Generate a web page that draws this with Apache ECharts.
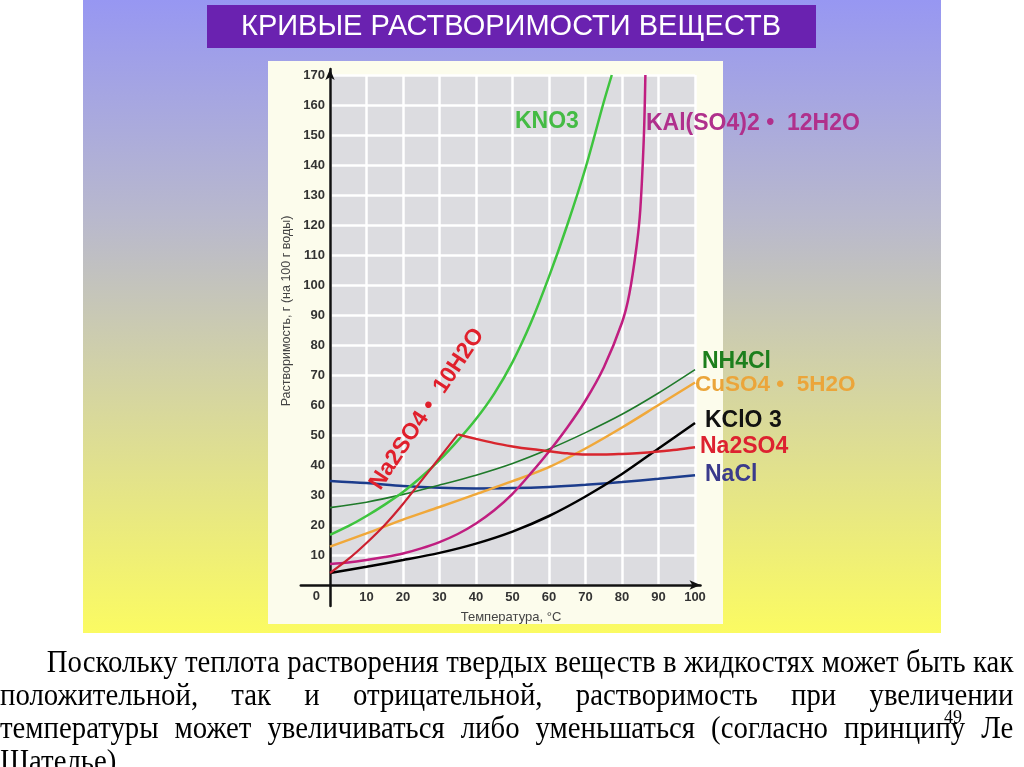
<!DOCTYPE html>
<html><head><meta charset="utf-8">
<script src="https://cdn.jsdelivr.net/npm/echarts@6/dist/echarts.min.js"></script>
<style>
html,body{margin:0;padding:0;background:#fff;width:1024px;height:767px;overflow:hidden;}
#c{position:absolute;left:0;top:0;width:1024px;height:767px;}
.ln{position:absolute;left:0;width:1126px;transform:scaleX(0.9);transform-origin:0 0;
  font-family:"Liberation Serif","Times New Roman",serif;font-size:32px;line-height:33px;color:#000;
  text-align:justify;text-align-last:justify;}
#pg{position:absolute;left:944px;top:707px;font-family:"Liberation Serif",serif;font-size:18px;color:#000;}
</style></head><body>
<div id="c"></div>
<div class="ln" style="top:645px;padding-left:52px;width:1074px">Поскольку теплота растворения твердых веществ в жидкостях может быть как</div>
<div class="ln" style="top:678px">положительной, так и отрицательной, растворимость при увеличении</div>
<div class="ln" style="top:711px">температуры может увеличиваться либо уменьшаться (согласно принципу Ле</div>
<div class="ln" style="top:744px;text-align:left;text-align-last:left">Шателье)</div>
<div id="pg">49</div>
<script>
// ---- data (temperature °C, solubility g/100 g water) ----
const xTicks = [0,10,20,30,40,50,60,70,80,90,100];
const yTicks = [0,10,20,30,40,50,60,70,80,90,100,110,120,130,140,150,160,170];
const KNO3 = [[0,16.7],[5,19.6],[10,23],[15,26.8],[20,31],[25,36],[30,41.6],[35,48.1],[40,55.3],[45,63.8],[50,74.3],[55,87.3],[60,102.8],[65,120],[70,139],[75,161],[77.2,170]];
const KAL = [[0,7],[5,7.5],[10,8.3],[15,9.3],[20,10.5],[25,12.2],[30,14.3],[35,17],[40,20.5],[45,24.9],[50,30.4],[55,37.2],[60,44.5],[65,52.5],[70,61.5],[75,72.5],[80,87.5],[82,97],[84,113],[85,125],[86,150],[86.4,170]];
const NH4CL = [[0,25.8],[10,27.6],[20,30.2],[30,33.3],[40,36.6],[50,40.5],[60,45.3],[70,50.8],[80,56.9],[90,64],[100,71.8]];
const CUSO4 = [[0,12.8],[10,17.2],[20,21.8],[30,26],[40,30.3],[50,34.6],[60,39.3],[70,45.5],[80,52.5],[90,60],[100,67.5]];
const KCLO3 = [[0,4],[10,6.1],[20,8.3],[30,10.7],[40,13.8],[50,17.8],[60,23],[70,29.5],[80,37],[90,45.5],[100,54]];
const NA2SO4_10H2O = [[0,4],[5,8.6],[10,14],[15,20],[20,27],[25,34.7],[30,42.4],[35,50.2]];
const NA2SO4 = [[35,50.2],[40,48.7],[45,47.3],[50,46.2],[55,45.3],[60,44.6],[65,43.9],[70,43.5],[75,43.5],[80,43.7],[85,44],[90,44.5],[95,45.1],[100,45.9]];
const NACL = [[0,34.7],[10,34],[20,33],[30,32.4],[40,32.2],[50,32.3],[60,32.7],[70,33.4],[80,34.3],[90,35.4],[100,36.6]];

const chart = echarts.init(document.getElementById('c'), null, {renderer:'canvas'});
const FS = 'Liberation Sans, Arial, sans-serif';
function line(name, data, color, width){
  return {type:'line', name, data, xAxisIndex:1, yAxisIndex:1, showSymbol:false, symbol:'none',
    smooth:0.3, lineStyle:{color, width}, z:3, silent:true};
}
function lbl(text, x, y, color, size){
  return {type:'text', z:50, style:{text, x, y, fill:color, font:'bold '+size+'px '+FS, textAlign:'left', textVerticalAlign:'middle'}};
}
chart.setOption({
  animation:false,
  grid:[
    {left:330, top:75, width:365, height:510, show:true, backgroundColor:'#dcdce0', borderWidth:0},
    {left:300.8, top:69, width:399.7, height:537, show:false}
  ],
  xAxis:[
    {gridIndex:0, type:'value', min:0, max:100, interval:10, axisLine:{show:false}, axisTick:{show:false},
      axisLabel:{show:true, fontWeight:'bold', fontSize:13, color:'#333', margin:6, fontFamily:FS,
        formatter:v => (v === 0 ? '' : String(v))},
      splitLine:{show:true, lineStyle:{color:'#ffffff', width:2.5}}},
    {gridIndex:1, type:'value', min:-8, max:101.5,
      axisLine:{show:true, onZero:true, lineStyle:{color:'#111', width:2.5}, symbol:['none','arrow'], symbolSize:[7,11]},
      axisTick:{show:false}, splitLine:{show:false}, axisLabel:{show:false}}
  ],
  yAxis:[
    {gridIndex:0, type:'value', min:0, max:170, interval:10, axisLine:{show:false}, axisTick:{show:false},
      axisLabel:{show:true, fontWeight:'bold', fontSize:13, color:'#333', margin:5, fontFamily:FS,
        formatter:v => v === 0 ? '{z|0}' : String(v),
        rich:{z:{fontWeight:'bold', fontSize:13, color:'#333', fontFamily:FS, padding:[22,5,0,0]}}},
      splitLine:{show:true, lineStyle:{color:'#ffffff', width:2.5}}},
    {gridIndex:1, type:'value', min:-7, max:172,
      axisLine:{show:true, onZero:true, lineStyle:{color:'#111', width:2.5}, symbol:['none','arrow'], symbolSize:[7,11]},
      axisTick:{show:false}, splitLine:{show:false}, axisLabel:{show:false}}
  ],
  series:[
    line('NaCl', NACL, '#1c3c8c', 2.5),
    line('NH4Cl', NH4CL, '#1f7a2a', 1.6),
    line('CuSO4 • 5H2O', CUSO4, '#f0a83a', 2.5),
    line('KClO3', KCLO3, '#000000', 2.5),
    line('KAl(SO4)2 • 12H2O', KAL, '#c01e80', 2.5),
    line('KNO3', KNO3, '#3ec43e', 2.5),
    line('Na2SO4 • 10H2O', NA2SO4_10H2O, '#cc2030', 2.2),
    line('Na2SO4', NA2SO4, '#d8262e', 2.5)
  ],
  graphic:[
    {type:'rect', z:-10, shape:{x:83, y:0, width:858, height:633},
      style:{fill:new echarts.graphic.LinearGradient(0,0,0,1,[
        {offset:0, color:'#9797f2'},{offset:0.35, color:'#b9b9cc'},{offset:0.6, color:'#d3d3a4'},{offset:1, color:'#fbfb62'}])}},
    {type:'rect', z:-9, shape:{x:268, y:61, width:455, height:563}, style:{fill:'#fcfcec'}},
    {type:'rect', z:-9, shape:{x:207, y:5, width:609, height:43}, style:{fill:'#6a22b0'}},
    {type:'text', z:50, style:{text:'КРИВЫЕ РАСТВОРИМОСТИ ВЕЩЕСТВ', x:511, y:27, fill:'#ffffff', font:'29px '+FS, textAlign:'center', textVerticalAlign:'middle'}},
    {type:'text', z:50, x:287, y:311, rotation:Math.PI/2, style:{text:'Растворимость, г (на 100 г воды)', x:0, y:0, fill:'#444', font:'12.5px '+FS, textAlign:'center', textVerticalAlign:'middle'}},
    {type:'text', z:50, style:{text:'Температура, °C', x:511, y:617, fill:'#444', font:'13px '+FS, textAlign:'center', textVerticalAlign:'middle'}},
    lbl('KNO3', 515, 122, '#44bb44', 23),
    lbl('KAl(SO4)2 •  12H2O', 646, 124, '#b0308c', 23),
    lbl('NH4Cl', 702, 362, '#1d7f1d', 23),
    lbl('CuSO4 •  5H2O', 695, 385, '#eba53a', 22.5),
    lbl('KClO 3', 705, 421, '#111111', 23),
    lbl('Na2SO4', 700, 447, '#dd2230', 23),
    lbl('NaCl', 705, 475, '#3a3a8c', 23),
    {type:'text', z:50, x:427, y:409, rotation:0.984, style:{text:'Na2SO4 •  10H2O', x:0, y:0, fill:'#e0202c', font:'bold 23px '+FS, textAlign:'center', textVerticalAlign:'middle'}}
  ]
});
</script>
</body></html>
